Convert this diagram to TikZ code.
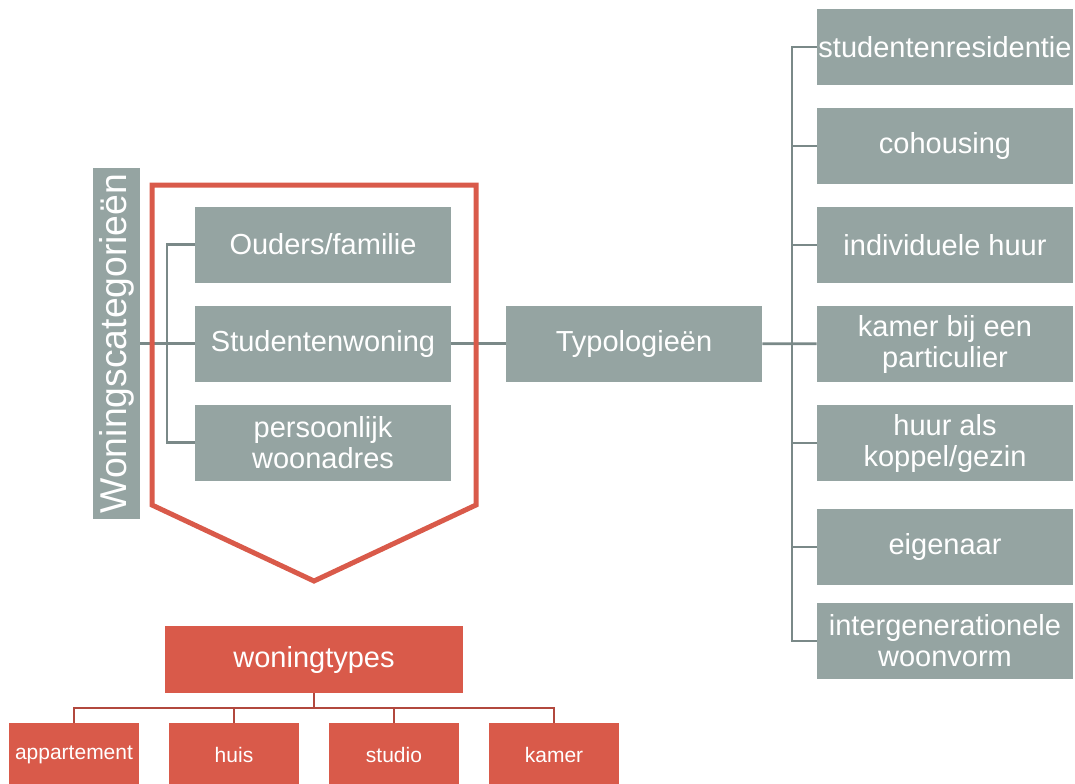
\documentclass[tikz,border=0pt]{standalone}
\usepackage{fontspec}
\setmainfont{Liberation Sans}
\definecolor{boxgrey}{RGB}{149,164,162}
\definecolor{linegrey}{RGB}{122,137,136}
\definecolor{boxred}{RGB}{217,90,74}
\definecolor{linered}{RGB}{178,72,62}

\begin{document}
\begin{tikzpicture}[x=0.75pt,y=-0.75pt,node distance=74.25pt,
    grey node/.style={fill=boxgrey,text=white,minimum width=192pt,minimum height=57pt,inner sep=0pt,align=center,font=\fontsize{21.75}{23.25}\selectfont},
    red node/.style={fill=boxred,text=white,inner sep=0pt,align=center},
    grey line/.style={draw=linegrey,line width=2pt},
    red line/.style={draw=linered,line width=2pt}]
                        \useasboundingbox (0,0) rectangle (1075,783);

                        % left part
                        \node[grey node,rotate=90,minimum width=263.25pt,minimum height=35.25pt,font=\fontsize{28}{30}\selectfont] (0) at (116.5,343.5) {Woningscategorieën};
                        \node[grey node] (2) at (323,343.5) {Studentenwoning};
                        \node[grey node] (1) [above of = 2] {Ouders/familie};
                        \node[grey node] (3) [below of = 2] {persoonlijk\\woonadres};

                        \node[grey node] (4) [right of = 2, node distance=233.25pt] {Typologieën};

                        % right column
                        \node[grey node] (8) at (945,344) {kamer bij een\\particulier};
                        \node[grey node] (7) [above of = 8] {individuele huur};
                        \node[grey node] (6) [above of = 7] {cohousing};
                        \node[grey node] (5) [above of = 6] {studentenresidentie};
                        \node[grey node] (9) [below of = 8] {huur als\\koppel/gezin};
                        \node[grey node] (10) [below of = 9, yshift=-3.75pt] {eigenaar};
                        \node[grey node] (11) [below of = 10, yshift=3.75pt] {intergenerationele\\woonvorm};

                        % woningtypes
                        \node[red node,minimum width=223.5pt,minimum height=50.25pt,font=\fontsize{21.75}{24}\selectfont] (12) at (314,659.5) {woningtypes};
                        \node[red node,minimum width=97.5pt,minimum height=48pt,font=\fontsize{15.75}{18}\selectfont] (13) at (74,755) {appartement};
                        \node[red node,minimum width=97.5pt,minimum height=48pt,font=\fontsize{15.75}{18}\selectfont] (14) [right of = 13, node distance=120pt] {huis};
                        \node[red node,minimum width=97.5pt,minimum height=48pt,font=\fontsize{15.75}{18}\selectfont] (15) [right of = 14, node distance=120pt] {studio};
                        \node[red node,minimum width=97.5pt,minimum height=48pt,font=\fontsize{15.75}{18}\selectfont] (16) [right of = 15, node distance=120pt] {kamer};

                        \coordinate (a) at (167,343.5);
                        \coordinate (b) at (792,344);
                        \coordinate (c) at (314,708);

                        \draw[grey line] (0) -- (2);
                        \draw[grey line] (1.west) -| (a) |- (3.west);
                        \draw[grey line] (2) -- (4);
                        \draw[grey line] (4) -- (8);
                        \draw[grey line] (5.west) -| (b) |- (11.west);
                        \foreach \n in {6,7,9,10}
                            \draw[grey line] (\n.west) -- (\n.west -| b);

                        \draw[red line] (12) -- (c);
                        \draw[red line] (13.north) |- (c) -| (16.north);
                        \foreach \n in {14,15}
                            \draw[red line] (\n.north) -- (\n.north |- c);

                        % red frame
                        \draw[draw=boxred,line width=3.75pt] (152,185) -- (476,185) -- (476,505) -- (314,581) -- (152,505) -- cycle;
                    \end{tikzpicture}
\end{document}
